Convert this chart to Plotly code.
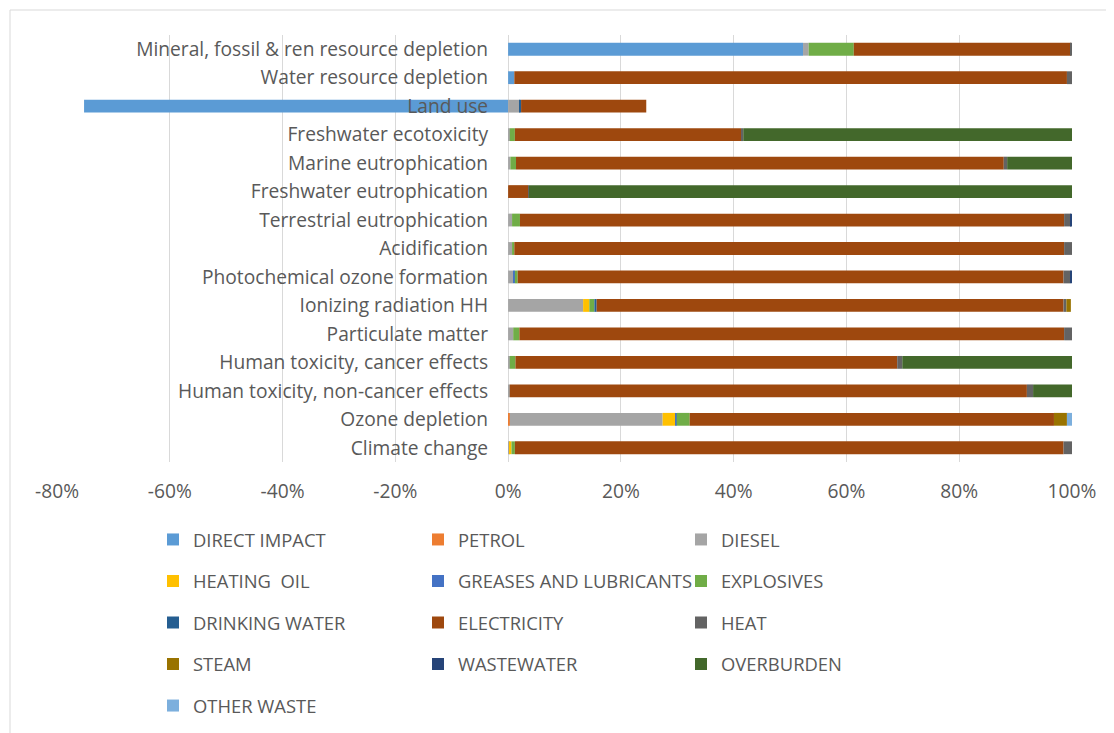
import plotly.graph_objects as go

categories = [
    "Mineral, fossil & ren resource depletion",
    "Water resource depletion",
    "Land use",
    "Freshwater ecotoxicity",
    "Marine eutrophication",
    "Freshwater eutrophication",
    "Terrestrial eutrophication",
    "Acidification",
    "Photochemical ozone formation",
    "Ionizing radiation HH",
    "Particulate matter",
    "Human toxicity, cancer effects",
    "Human toxicity, non-cancer effects",
    "Ozone depletion",
    "Climate change",
]

direct_impact  = [52.3, 1.1, -75.2, 0, 0, 0, 0, 0, 0, 0, 0, 0, 0, 0, 0]
petrol         = [0, 0, 0, 0, 0, 0, 0, 0, 0, 0, 0, 0, 0, 0.3, 0]
diesel         = [1.0, 0, 2.1, 0.3, 0.4, 0, 0.7, 0.7, 0.9, 13.3, 0.9, 0.3, 0.3, 27.1, 0.3]
heating_oil    = [0, 0, 0, 0, 0, 0, 0, 0, 0, 1.1, 0, 0, 0, 2.3, 0.3]
greases        = [0, 0, 0, 0, 0, 0, 0, 0, 0.3, 0, 0, 0, 0, 0.2, 0]
explosives     = [8.0, 0, 0, 0.9, 1.0, 0, 1.4, 0.4, 0.5, 0.9, 1.1, 1.0, 0, 2.3, 0.6]
drinking_water = [0, 0, 0.2, 0, 0, 0, 0, 0, 0, 0.4, 0, 0, 0, 0, 0]
electricity    = [38.5, 98.0, 22.2, 40.1, 86.5, 3.6, 96.5, 97.5, 96.8, 82.8, 96.6, 67.7, 91.7, 64.6, 97.3]
heat           = [0.2, 0.9, 0, 0.4, 0.6, 0.1, 1.2, 1.4, 1.2, 0.5, 1.4, 0.9, 1.1, 0, 1.5]
steam          = [0, 0, 0, 0, 0, 0, 0, 0, 0, 0.8, 0, 0, 0, 2.3, 0]
wastewater     = [0, 0, 0, 0, 0, 0, 0.2, 0, 0.3, 0, 0, 0, 0, 0, 0]
overburden     = [0, 0, 0, 58.3, 11.5, 96.3, 0, 0, 0, 0, 0, 30.1, 6.9, 0, 0]
other_waste    = [0, 0, 0, 0, 0, 0, 0, 0, 0, 0, 0, 0, 0, 0.9, 0]

x_tickvals = [-80, -60, -40, -20, 0, 20, 40, 60, 80, 100]
x_ticktext = ["-80%", "-60%", "-40%", "-20%", "0%", "20%", "40%", "60%", "80%", "100%"]

series = [
    ("DIRECT IMPACT", direct_impact, "#5B9BD5", "legend"),
    ("PETROL", petrol, "#ED7D31", "legend2"),
    ("DIESEL", diesel, "#A5A5A5", "legend3"),
    ("HEATING  OIL", heating_oil, "#FFC000", "legend"),
    ("GREASES AND LUBRICANTS", greases, "#4472C4", "legend2"),
    ("EXPLOSIVES", explosives, "#70AD47", "legend3"),
    ("DRINKING WATER", drinking_water, "#255E91", "legend"),
    ("ELECTRICITY", electricity, "#9E480E", "legend2"),
    ("HEAT", heat, "#636363", "legend3"),
    ("STEAM", steam, "#997300", "legend"),
    ("WASTEWATER", wastewater, "#264478", "legend2"),
    ("OVERBURDEN", overburden, "#43682B", "legend3"),
    ("OTHER WASTE", other_waste, "#7CAFDD", "legend"),
]

TXT = "#595959"
FONT = "Open Sans"
FS = 19.2
LFS = 18.4

fig = go.Figure()
for name, vals, col, lg in series:
    fig.add_trace(go.Bar(
        y=categories, x=vals, name=name, orientation="h",
        marker=dict(color=col, line=dict(width=0)),
        legend=lg, legendgroup=name,
    ))

# page body has an 8px margin, so the figure is 8px smaller than the window
W, H = 1106, 725
ml, mr, mt, mb = 49, 42, 27, 271
pw, ph = W - ml - mr, H - mt - mb

def px_to_paper_x(px):
    return (px - ml) / pw

def px_to_paper_y(py):
    return (H - mb - py) / ph

leg_common = dict(
    orientation="v", xanchor="left", yanchor="top",
    font=dict(family=FONT, size=LFS, color=TXT),
    bgcolor="rgba(0,0,0,0)", tracegroupgap=14.6,
    itemclick=False, itemdoubleclick=False,
)
leg_y = px_to_paper_y(513)

fig.update_layout(
    width=W, height=H,
    margin=dict(l=ml, r=mr, t=mt, b=mb, autoexpand=False),
    paper_bgcolor="white", plot_bgcolor="white",
    barmode="relative", bargap=0.55,
    font=dict(family=FONT, color=TXT),
    xaxis=dict(
        range=[-80, 100], tickmode="array", tickvals=x_tickvals, ticktext=x_ticktext,
        showgrid=True, gridcolor="#D9D9D9", gridwidth=1,
        zeroline=True, zerolinecolor="#D9D9D9", zerolinewidth=1,
        showline=False, ticks="",
        tickfont=dict(family=FONT, size=FS, color=TXT),
        ticklabelstandoff=16,
    ),
    yaxis=dict(
        range=[14.5, -0.5], anchor="free", position=80 / 180,
        showgrid=False, zeroline=False, showline=False, ticks="",
        tickfont=dict(family=FONT, size=FS, color=TXT),
        ticklabelstandoff=20,
    ),
    legend=dict(x=px_to_paper_x(145), y=leg_y, **leg_common),
    legend2=dict(x=px_to_paper_x(410), y=leg_y, **leg_common),
    legend3=dict(x=px_to_paper_x(673), y=leg_y, **leg_common),
    shapes=[dict(
        type="rect", xref="paper", yref="paper",
        x0=px_to_paper_x(2), x1=px_to_paper_x(1100),
        y0=px_to_paper_y(740), y1=px_to_paper_y(2),
        line=dict(color="#D9D9D9", width=1), fillcolor="rgba(0,0,0,0)",
        layer="below",
    )],
)

fig.write_html("out.html")
